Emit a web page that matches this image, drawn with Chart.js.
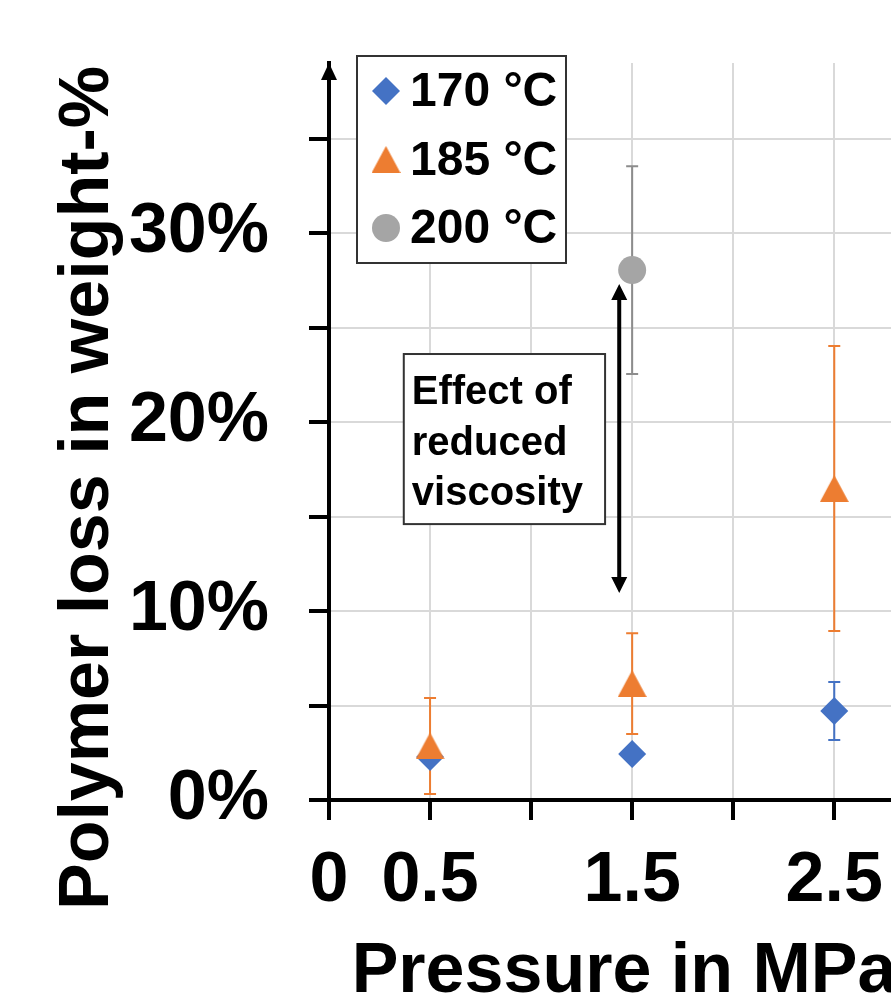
<!DOCTYPE html>
<html>
<head>
<meta charset="utf-8">
<script src="https://cdn.jsdelivr.net/npm/chart.js@4/dist/chart.umd.min.js"></script>
<style>
  html, body { margin: 0; padding: 0; background: #fff; overflow: hidden; }
  #wrap { width: 891px; height: 1000px; overflow: hidden; }
</style>
</head>
<body>
<div id="wrap"><canvas id="c" width="919" height="1000"></canvas></div>
<script>
// ---- data (loss in weight-%, pressure in MPa) ----
const seriesLabels = ['170 °C', '185 °C', '200 °C'];
const pressure170 = [0.5, 1.5, 2.5];
const loss170     = [2.28, 2.43, 4.71];
const err170      = [0, 0, 1.53];
const pressure185 = [0.5, 1.5, 2.5];
const loss185     = [2.86, 6.16, 16.48];
const err185      = [2.54, 2.67, 7.54];
const pressure200 = [1.5];
const loss200     = [28.04];
const err200      = [5.5];
const xTickValues = [0, 0.5, 1, 1.5, 2, 2.5];
const xTickLabels = ['0', '0.5', '', '1.5', '', '2.5'];
const yTickValues = [0, 5, 10, 15, 20, 25, 30, 35];
const yTickLabels = ['0%', '', '10%', '', '20%', '', '30%', ''];
const annotationLines = ['Effect of', 'reduced', 'viscosity'];
const xTitle = 'Pressure in MPa';
const yTitle = 'Polymer loss in weight-%';

const BLUE = '#4472C4', ORANGE = '#ED7D31', GRAY = '#A5A5A5', GRAYBAR = '#8C8C8C';
const FONT = "'Liberation Sans', Arial, sans-serif";

function pts(xs, ys) { return xs.map((x, i) => ({ x: x, y: ys[i] })); }

// Excel-like triangle marker (centred on its bounding box)
function triCanvas(w, h, color) {
  const c = document.createElement('canvas');
  c.width = w; c.height = h;
  const g = c.getContext('2d');
  g.fillStyle = color;
  g.beginPath();
  g.moveTo(w / 2, 0); g.lineTo(w, h); g.lineTo(0, h); g.closePath();
  g.fill();
  return c;
}
const triImg = triCanvas(29, 27, ORANGE);

const errorSets = [
  { xs: pressure170, ys: loss170, es: err170, color: BLUE },
  { xs: pressure185, ys: loss185, es: err185, color: ORANGE },
  { xs: pressure200, ys: loss200, es: err200, color: GRAYBAR }
];

function noPad(s) { s.paddingTop = 0; s.paddingBottom = 0; s.paddingLeft = 0; s.paddingRight = 0; }

const overlay = {
  id: 'overlay',
  beforeDatasetsDraw(chart) {
    const ctx = chart.ctx, xs = chart.scales.x, ys = chart.scales.y;
    ctx.save();
    ctx.lineWidth = 2;
    errorSets.forEach(s => {
      ctx.strokeStyle = s.color;
      s.xs.forEach((x, i) => {
        const e = s.es[i];
        if (!e) return;
        const px = xs.getPixelForValue(x);
        const t = ys.getPixelForValue(s.ys[i] + e);
        const b = ys.getPixelForValue(Math.max(0, s.ys[i] - e));
        ctx.beginPath();
        ctx.moveTo(px, t); ctx.lineTo(px, b);
        ctx.moveTo(px - 6, t); ctx.lineTo(px + 6, t);
        ctx.moveTo(px - 6, b); ctx.lineTo(px + 6, b);
        ctx.stroke();
      });
    });
    ctx.restore();
  },
  afterDraw(chart) {
    const ctx = chart.ctx, xs = chart.scales.x, ys = chart.scales.y, ca = chart.chartArea;
    ctx.save();
    // y-axis arrow head
    ctx.fillStyle = '#000';
    ctx.beginPath();
    ctx.moveTo(ca.left, ca.top);
    ctx.lineTo(ca.left + 8, ca.top + 17);
    ctx.lineTo(ca.left - 8, ca.top + 17);
    ctx.closePath(); ctx.fill();

    // annotation box
    const bx0 = xs.getPixelForValue(0.37), bx1 = xs.getPixelForValue(1.366);
    const by0 = ys.getPixelForValue(23.6), by1 = ys.getPixelForValue(14.6);
    ctx.fillStyle = '#fff';
    ctx.fillRect(bx0, by0, bx1 - bx0, by1 - by0);
    ctx.strokeStyle = '#333'; ctx.lineWidth = 2;
    ctx.strokeRect(bx0, by0, bx1 - bx0, by1 - by0);
    ctx.fillStyle = '#000';
    ctx.font = 'bold 40px ' + FONT;
    ctx.textAlign = 'left'; ctx.textBaseline = 'alphabetic';
    annotationLines.forEach((l, i) => ctx.fillText(l, bx0 + 8, by0 + 50 + i * 50.5));

    // double arrow
    const ax = xs.getPixelForValue(1.436);
    const ay0 = ys.getPixelForValue(27.3), ay1 = ys.getPixelForValue(10.95);
    ctx.strokeStyle = '#000'; ctx.lineWidth = 4;
    ctx.beginPath(); ctx.moveTo(ax, ay0 + 12); ctx.lineTo(ax, ay1 - 12); ctx.stroke();
    ctx.beginPath();
    ctx.moveTo(ax, ay0); ctx.lineTo(ax + 8, ay0 + 16); ctx.lineTo(ax - 8, ay0 + 16); ctx.closePath();
    ctx.moveTo(ax, ay1); ctx.lineTo(ax + 8, ay1 - 16); ctx.lineTo(ax - 8, ay1 - 16); ctx.closePath();
    ctx.fill();

    // legend
    const lx = 357, ly = 56, lw = 209, lh = 207;
    ctx.fillStyle = '#fff'; ctx.fillRect(lx, ly, lw, lh);
    ctx.strokeStyle = '#333'; ctx.lineWidth = 2; ctx.strokeRect(lx, ly, lw, lh);
    const rows = [91, 159.5, 228];
    const mx = 386;
    ctx.fillStyle = BLUE;
    ctx.beginPath();
    ctx.moveTo(mx, rows[0] - 14); ctx.lineTo(mx + 14, rows[0]); ctx.lineTo(mx, rows[0] + 14); ctx.lineTo(mx - 14, rows[0]);
    ctx.closePath(); ctx.fill();
    ctx.drawImage(triImg, mx - 14.5, rows[1] - 13.5);
    ctx.fillStyle = GRAY;
    ctx.beginPath(); ctx.arc(mx, rows[2], 14, 0, Math.PI * 2); ctx.fill();
    ctx.fillStyle = '#000';
    ctx.font = 'bold 48px ' + FONT;
    ctx.textAlign = 'left'; ctx.textBaseline = 'middle';
    seriesLabels.forEach((t, i) => ctx.fillText(t, 410, rows[i] + 2));

    // axis titles
    ctx.font = 'bold 70px ' + FONT;
    ctx.textAlign = 'center'; ctx.textBaseline = 'alphabetic';
    ctx.fillText(xTitle, 624, 992);
    ctx.translate(108, 488);
    ctx.rotate(-Math.PI / 2);
    ctx.fillText(yTitle, 0, 0);
    ctx.restore();
  }
};

new Chart(document.getElementById('c'), {
  type: 'scatter',
  data: {
    datasets: [
      { label: seriesLabels[0], data: pts(pressure170, loss170), pointStyle: 'rectRot',
        pointRadius: 14, pointHoverRadius: 14, backgroundColor: BLUE, borderColor: BLUE, borderWidth: 0, order: 1 },
      { label: seriesLabels[1], data: pts(pressure185, loss185), pointStyle: triImg,
        pointRadius: 14, pointHoverRadius: 14, backgroundColor: ORANGE, borderColor: ORANGE, borderWidth: 0, order: 0 },
      { label: seriesLabels[2], data: pts(pressure200, loss200), pointStyle: 'circle',
        pointRadius: 14, pointHoverRadius: 14, backgroundColor: GRAY, borderColor: GRAY, borderWidth: 0, order: 2 }
    ]
  },
  options: {
    responsive: false,
    animation: false,
    devicePixelRatio: 1,
    layout: { padding: { top: 63, right: 0, left: 0, bottom: 0 } },
    plugins: { legend: { display: false }, tooltip: { enabled: false }, title: { display: false } },
    scales: {
      x: {
        type: 'linear', min: 0, max: 2.85,
        afterBuildTicks(s) { s.ticks = xTickValues.map(v => ({ value: v })); },
        afterFit(s) { s.height = 200; noPad(s); },
        grid: { color: '#d9d9d9', lineWidth: 2, drawTicks: true, tickLength: 20, tickColor: '#000', tickWidth: 4 },
        border: { display: true, color: '#000', width: 4 },
        ticks: {
          autoSkip: false, maxRotation: 0, padding: 20, color: '#000',
          font: { family: FONT, size: 70, weight: 'bold' },
          callback: (v, i) => xTickLabels[i]
        }
      },
      y: {
        type: 'linear', min: 0, max: 39,
        afterBuildTicks(s) { s.ticks = yTickValues.map(v => ({ value: v })); },
        afterFit(s) { s.width = 329; noPad(s); },
        grid: { color: '#d9d9d9', lineWidth: 2, drawTicks: true, tickLength: 20, tickColor: '#000', tickWidth: 4 },
        border: { display: true, color: '#000', width: 4 },
        ticks: {
          autoSkip: false, padding: 40, color: '#000',
          font: { family: FONT, size: 70, weight: 'bold' },
          callback: (v, i) => yTickLabels[i]
        }
      }
    }
  },
  plugins: [overlay]
});
</script>
</body>
</html>
